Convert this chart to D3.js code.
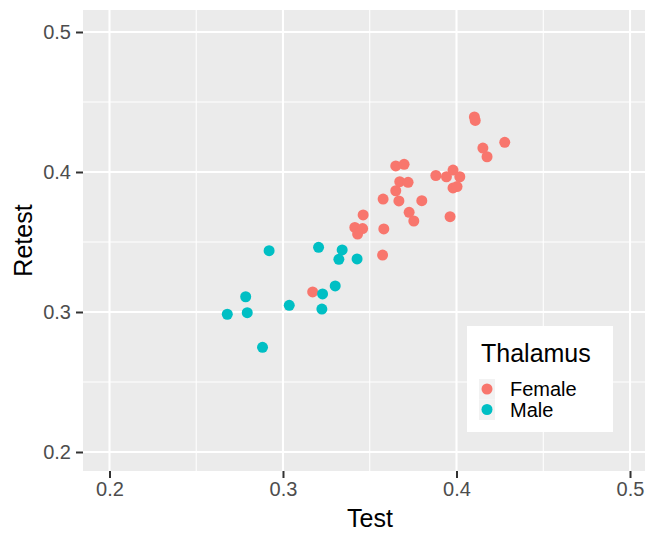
<!DOCTYPE html>
<html><head><meta charset="utf-8">
<script src="https://cdn.jsdelivr.net/npm/d3@7"></script>
<style>body{margin:0;background:#fff}svg{display:block;font-family:"Liberation Sans",Arial,sans-serif}</style>
</head><body><div id="chart"></div>
<script>
const femaleTest = [0.3171,0.3574,0.3414,0.3459,0.3430,0.3462,0.3581,0.3577,0.3668,0.3800,0.3727,0.3754,0.3963,0.3650,0.3673,0.3721,0.3650,0.3698,0.3881,0.3942,0.3980,0.4019,0.3980,0.4003,0.4103,0.4108,0.4152,0.4176,0.4278];
const femaleRetest = [0.3143,0.3407,0.3604,0.3596,0.3557,0.3693,0.3593,0.3807,0.3793,0.3795,0.3712,0.3650,0.3681,0.3866,0.3931,0.3926,0.4043,0.4055,0.3975,0.3966,0.4014,0.3966,0.3886,0.3896,0.4393,0.4368,0.4171,0.4109,0.4212];
const maleTest = [0.2920,0.3205,0.3341,0.3322,0.3427,0.3301,0.3228,0.2785,0.3036,0.3224,0.2679,0.2794,0.2882];
const maleRetest = [0.3438,0.3462,0.3443,0.3376,0.3379,0.3186,0.3129,0.3109,0.3048,0.3021,0.2984,0.2995,0.2748];
const groups = ["Female","Male"];
const colors = ["#F8766D","#00BFC4"];
const majorTicks = [0.2,0.3,0.4,0.5];
const minorTicks = [0.25,0.35,0.45];

const W=652,H=533;
const P={l:83,r:645,t:10,b:471};
const svg=d3.select("#chart").append("svg").attr("width",W).attr("height",H);
const x=d3.scaleLinear().domain([0.2-(109.5-83)/1736,0.5+(645-630)/1736]).range([P.l,P.r]);
const y=d3.scaleLinear().domain([0.2-19/1400,0.5+22/1400]).range([P.b,P.t]);

svg.append("rect").attr("x",P.l).attr("y",P.t).attr("width",P.r-P.l).attr("height",P.b-P.t).attr("fill","#EBEBEB");
const g=svg.append("g");
minorTicks.forEach(v=>{
  g.append("line").attr("x1",x(v)).attr("x2",x(v)).attr("y1",P.t).attr("y2",P.b).attr("stroke","#fff").attr("stroke-width",1.05);
  g.append("line").attr("y1",y(v)).attr("y2",y(v)).attr("x1",P.l).attr("x2",P.r).attr("stroke","#fff").attr("stroke-width",1.05);
});
majorTicks.forEach(v=>{
  g.append("line").attr("x1",x(v)).attr("x2",x(v)).attr("y1",P.t).attr("y2",P.b).attr("stroke","#fff").attr("stroke-width",2.1);
  g.append("line").attr("y1",y(v)).attr("y2",y(v)).attr("x1",P.l).attr("x2",P.r).attr("stroke","#fff").attr("stroke-width",2.1);
});

// axes
const xAxis=svg.append("g").attr("transform",`translate(0,${P.b})`)
  .call(d3.axisBottom(x).tickValues(majorTicks).tickFormat(d3.format(".1f")).tickSize(7).tickPadding(4));
const yAxis=svg.append("g").attr("transform",`translate(${P.l},0)`)
  .call(d3.axisLeft(y).tickValues(majorTicks).tickFormat(d3.format(".1f")).tickSize(7).tickPadding(5));
[xAxis,yAxis].forEach(a=>{
  a.select(".domain").remove();
  a.selectAll(".tick line").attr("stroke","#333").attr("stroke-width",2);
  a.selectAll(".tick text").attr("fill","#4D4D4D").style("font-size","20px").style("font-family","Liberation Sans, Arial, sans-serif");
});

// points
const data=[];
femaleTest.forEach((v,i)=>data.push({t:v,r:femaleRetest[i],g:0}));
maleTest.forEach((v,i)=>data.push({t:v,r:maleRetest[i],g:1}));
svg.append("g").selectAll("circle").data(data).join("circle")
  .attr("cx",d=>x(d.t)).attr("cy",d=>y(d.r)).attr("r",5.5).attr("fill",d=>colors[d.g]);

// titles
svg.append("text").attr("x",370).attr("y",527).attr("text-anchor","middle").attr("font-size","25px").attr("fill","#000").text("Test");
svg.append("text").attr("transform",`translate(32,${(P.t+P.b)/2}) rotate(-90)`).attr("text-anchor","middle").attr("font-size","25px").attr("fill","#000").text("Retest");

// legend
const lg=svg.append("g");
lg.append("rect").attr("x",467).attr("y",326).attr("width",146).attr("height",106).attr("fill","#fff");
lg.append("text").attr("x",481).attr("y",362).attr("font-size","25px").attr("fill","#000").text("Thalamus");
groups.forEach((name,i)=>{
  const cy=389+i*20.5;
  lg.append("rect").attr("x",479).attr("y",cy-10).attr("width",16).attr("height",20.5).attr("fill","#F2F2F2");
  lg.append("circle").attr("cx",487).attr("cy",cy).attr("r",5.5).attr("fill",colors[i]);
  lg.append("text").attr("x",510).attr("y",cy+7).attr("font-size","20px").attr("fill","#000").text(name);
});
</script></body></html>
